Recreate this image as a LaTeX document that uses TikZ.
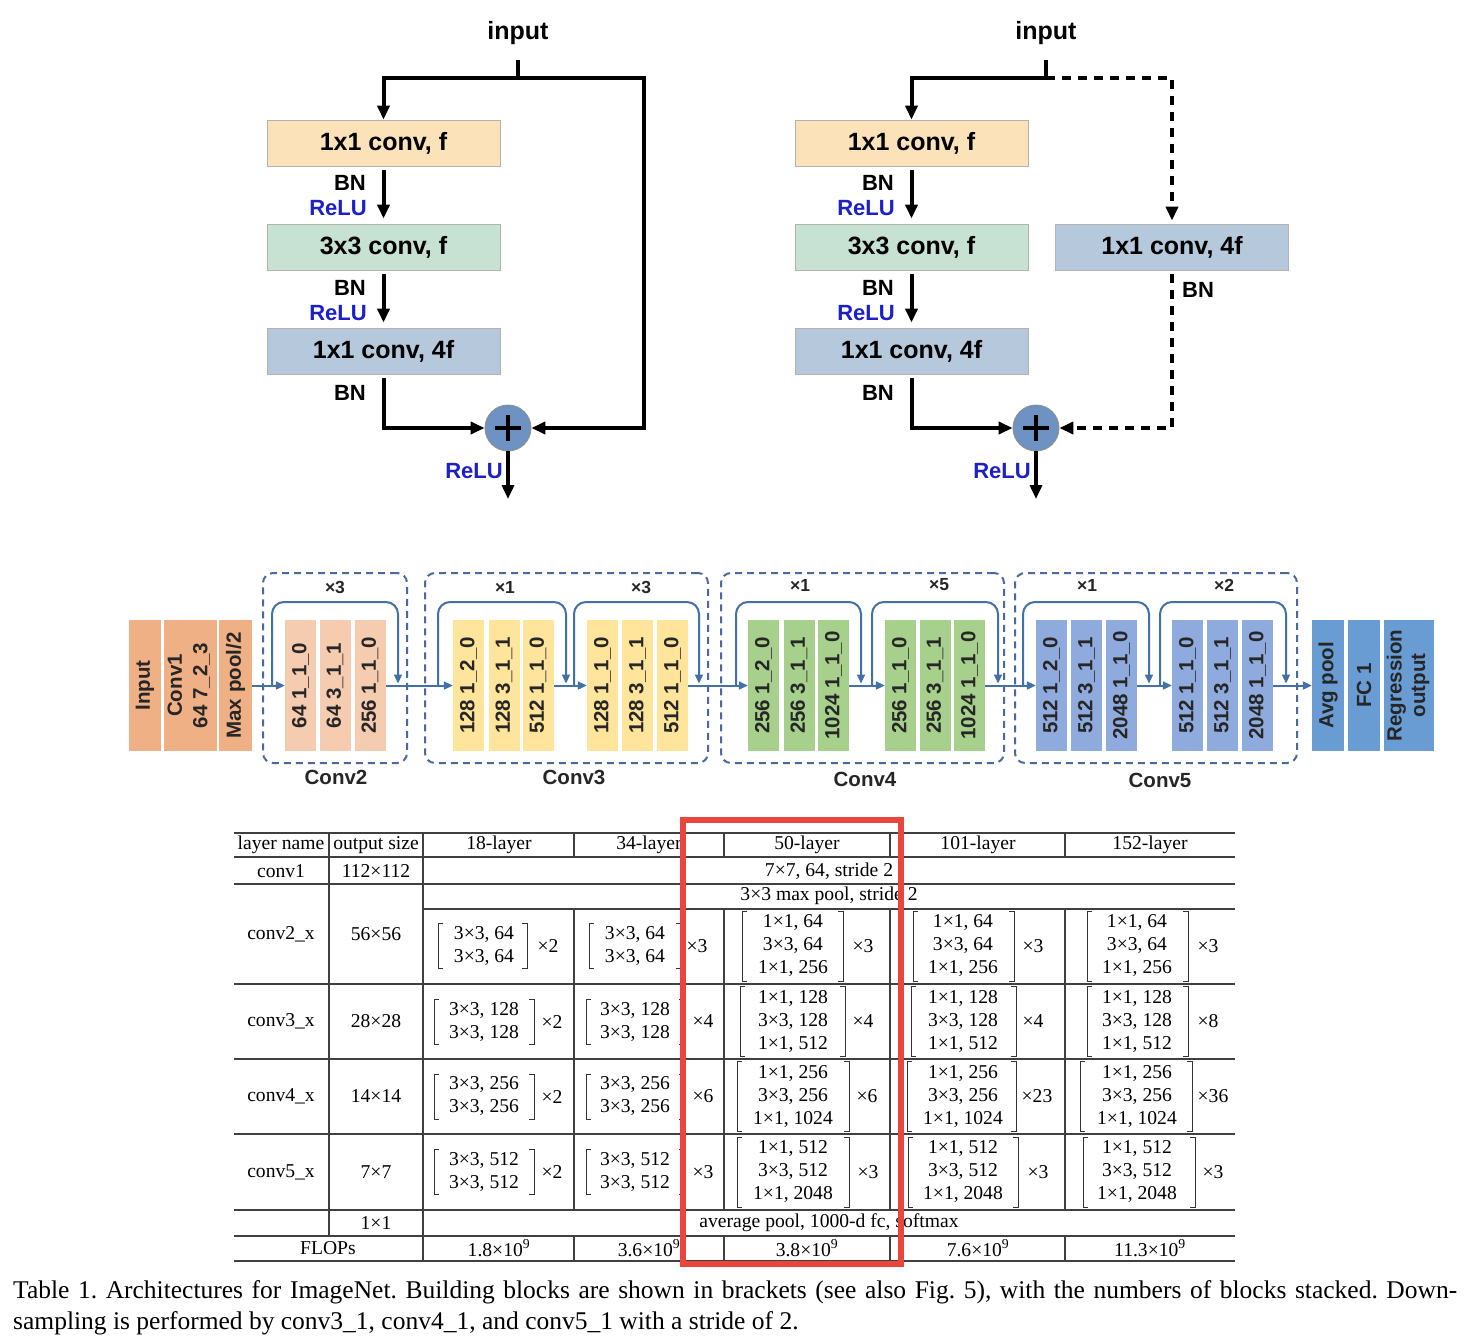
\documentclass[tikz,border=0pt]{standalone}
\usepackage{fontspec}
\setmainfont{Liberation Serif}
\setsansfont{Liberation Sans}
\usetikzlibrary{arrows.meta}
\frenchspacing
\definecolor{cA}{RGB}{251,226,184}
\definecolor{cB}{RGB}{199,225,210}
\definecolor{cC}{RGB}{182,200,219}
\definecolor{cP}{RGB}{110,146,194}
\definecolor{reluc}{RGB}{27,32,200}
\definecolor{mOr}{RGB}{239,176,133}
\definecolor{mPe}{RGB}{245,204,175}
\definecolor{mYe}{RGB}{254,229,155}
\definecolor{mGr}{RGB}{168,208,141}
\definecolor{mLa}{RGB}{143,170,220}
\definecolor{mBl}{RGB}{104,156,211}
\definecolor{mL}{RGB}{68,112,168}
\definecolor{mD}{RGB}{74,106,158}
\definecolor{redc}{RGB}{232,69,60}
\newcommand\dfs[1]{\sffamily\bfseries\fontsize{#1}{#1}\selectfont}
\newcommand\tfs{\rmfamily\fontsize{19.6}{23}\selectfont}
\newcommand\blk[5]{\node[mblk, fill=#2, minimum width=#3] (#1) at (#4,685.5) {\rotatebox{90}{#5}};}
\newcommand\skp[2]{\draw[mline,mtip,rounded corners=12pt,shorten >=2pt] (#1,685.5) -- (#1,602) -- (#2,602) -- (#2,685.5);}
\newcommand\brk[9]{%
  \node[tc] (#1) at (#2,#3) {#7};
  \draw[brk] (#4+5,#3-#6) -- (#4,#3-#6) -- (#4,#3+#6) -- (#4+5,#3+#6);
  \draw[brk] (#5-5,#3-#6) -- (#5,#3-#6) -- (#5,#3+#6) -- (#5-5,#3+#6);
  \node[tc] (#1m) at (#9,#3) {#8};}
\begin{document}
\begin{tikzpicture}[x=1pt,y=-1pt,
  lab/.style={inner sep=0pt, font=\dfs{22}},
  relu/.style={lab, text=reluc},
  tbox/.style={draw=black!30, line width=0.8pt, minimum width=233pt, minimum height=46pt, inner sep=0pt, font=\dfs{25}},
  thk/.style={line width=4pt, draw=black},
  tip/.style={-{Triangle[length=14pt,width=12pt]}},
  dsh/.style={thk, dash pattern=on 9pt off 7pt},
  plus/.style={circle, draw=black!45, line width=0.8pt, fill=cP, minimum size=46pt, inner sep=0pt},
  mblk/.style={minimum height=131pt, inner sep=0pt, font=\dfs{20.5}, text=black!85},
  mline/.style={line width=2pt, draw=mL},
  mtip/.style={-{Triangle[length=9pt,width=8pt]}},
  dbox/.style={draw=mD, line width=2pt, dash pattern=on 7pt off 5pt, rounded corners=10pt, minimum height=190pt, inner sep=0pt},
  glab/.style={inner sep=0pt, font=\dfs{20.5}, text=black!85},
  xlab/.style={inner sep=0pt, font=\dfs{17.5}, text=black!85},
  tc/.style={inner sep=0pt, font=\tfs, align=center},
  tl/.style={line width=1.1pt, draw=black!75},
  brk/.style={line width=1pt, draw=black!80},
  capt/.style={inner sep=0pt, font=\rmfamily\fontsize{25.5}{30}\selectfont}
]
\useasboundingbox (0,0) rectangle (1470,1342);
\fill[white] (0,0) rectangle (1470,1342);

% ---------------- top-left block
\node[lab, font=\dfs{25}] (ain) at (518,33) {input};
\coordinate (aj) at (518,78);
\coordinate (ar) at (644,78);
\coordinate (arb) at (644,428);
\node[tbox, fill=cA] (a1) at (383.5,143) {1x1 conv, f};
\node[tbox, fill=cB] (a2) at (383.5,247) {3x3 conv, f};
\node[tbox, fill=cC] (a3) at (383.5,351) {1x1 conv, 4f};
\node[plus] (ap) at (508,428) {};
\draw[line width=3.5pt] ([xshift=-13pt]ap.center) -- ([xshift=13pt]ap.center) ([yshift=-13pt]ap.center) -- ([yshift=13pt]ap.center);
\coordinate (aout) at (508,499);
\draw[thk] ([yshift=-15pt]ain.south) -- (aj);
\draw[thk,tip] (aj) -| (a1.north);
\draw[thk,tip] (aj) -- (ar) -- (arb) -- (ap.east);
\draw[thk,tip] ([yshift=-4pt]a1.south) -- ([yshift=5pt]a2.north);
\draw[thk,tip] ([yshift=-4pt]a2.south) -- ([yshift=5pt]a3.north);
\draw[thk,tip] ([yshift=-4pt]a3.south) |- (ap.west);
\draw[thk,tip] (ap.south) -- (aout);
\node[lab, anchor=east] (abn1) at (366,183) {BN};
\node[relu, anchor=east] (ar1) at (367,208) {ReLU};
\node[lab, anchor=east] (abn2) at (366,288) {BN};
\node[relu, anchor=east] (ar2) at (367,313) {ReLU};
\node[lab, anchor=east] (abn3) at (366,393) {BN};
\node[relu, anchor=east] (ar3) at (503,471) {ReLU};

% ---------------- top-right block
\node[lab, font=\dfs{25}] (bin) at (1046,33) {input};
\coordinate (bj) at (1046,78);
\node[tbox, fill=cA] (b1) at (911.5,143) {1x1 conv, f};
\node[tbox, fill=cB] (b2) at (911.5,247) {3x3 conv, f};
\node[tbox, fill=cC] (b3) at (911.5,351) {1x1 conv, 4f};
\node[tbox, fill=cC] (bx) at (1172,247) {1x1 conv, 4f};
\node[plus] (bp) at (1036,428) {};
\draw[line width=3.5pt] ([xshift=-13pt]bp.center) -- ([xshift=13pt]bp.center) ([yshift=-13pt]bp.center) -- ([yshift=13pt]bp.center);
\coordinate (bout) at (1036,499);
\draw[thk] ([yshift=-15pt]bin.south) -- (bj);
\draw[thk,tip] (bj) -| (b1.north);
\draw[dsh,tip] (bj) -| ([yshift=3pt]bx.north);
\draw[dsh,tip] ([yshift=-4pt]bx.south) |- (bp.east);
\draw[thk,tip] ([yshift=-4pt]b1.south) -- ([yshift=5pt]b2.north);
\draw[thk,tip] ([yshift=-4pt]b2.south) -- ([yshift=5pt]b3.north);
\draw[thk,tip] ([yshift=-4pt]b3.south) |- (bp.west);
\draw[thk,tip] (bp.south) -- (bout);
\node[lab, anchor=east] (bbn1) at (894,183) {BN};
\node[relu, anchor=east] (br1) at (895,208) {ReLU};
\node[lab, anchor=east] (bbn2) at (894,288) {BN};
\node[relu, anchor=east] (br2) at (895,313) {ReLU};
\node[lab, anchor=east] (bbn3) at (894,393) {BN};
\node[lab, anchor=west] (bbn4) at (1182,290) {BN};
\node[relu, anchor=east] (br3) at (1031,471) {ReLU};

% ---------------- middle row
\node[dbox, minimum width=144pt] (g2) at (335,668) {};
\node[dbox, minimum width=283pt] (g3) at (566.5,668) {};
\node[dbox, minimum width=283pt] (g4) at (862.5,668) {};
\node[dbox, minimum width=282pt] (g5) at (1156,668) {};

\blk{mi}{mOr}{32}{145}{Input}
\node[mblk, fill=mOr, minimum width=53pt] (mc1) at (190.5,685.5) {\rotatebox{90}{\begin{tabular}{@{}c@{}}Conv1\\[5pt]64 7\_2\_3\end{tabular}}};
\blk{mp}{mOr}{33}{235.5}{Max pool/2}

\blk{c2a}{mPe}{31}{300.5}{64 1\_1\_0}
\blk{c2b}{mPe}{31}{335}{64 3\_1\_1}
\blk{c2c}{mPe}{31}{370}{256 1\_1\_0}

\blk{c3a}{mYe}{31}{468.5}{128 1\_2\_0}
\blk{c3b}{mYe}{31}{504}{128 3\_1\_1}
\blk{c3c}{mYe}{31}{538}{512 1\_1\_0}
\blk{c3d}{mYe}{31}{602.5}{128 1\_1\_0}
\blk{c3e}{mYe}{31}{637.5}{128 3\_1\_1}
\blk{c3f}{mYe}{31}{672.5}{512 1\_1\_0}

\blk{c4a}{mGr}{31}{763.5}{256 1\_2\_0}
\blk{c4b}{mGr}{31}{799}{256 3\_1\_1}
\blk{c4c}{mGr}{31}{833.5}{1024 1\_1\_0}
\blk{c4d}{mGr}{31}{900.5}{256 1\_1\_0}
\blk{c4e}{mGr}{31}{935}{256 3\_1\_1}
\blk{c4f}{mGr}{31}{969.5}{1024 1\_1\_0}

\blk{c5a}{mLa}{31}{1051.5}{512 1\_2\_0}
\blk{c5b}{mLa}{31}{1086.5}{512 3\_1\_1}
\blk{c5c}{mLa}{31}{1121.5}{2048 1\_1\_0}
\blk{c5d}{mLa}{31}{1187.5}{512 1\_1\_0}
\blk{c5e}{mLa}{31}{1222.5}{512 3\_1\_1}
\blk{c5f}{mLa}{31}{1257.5}{2048 1\_1\_0}

\blk{fa}{mBl}{32}{1328}{Avg pool}
\blk{fb}{mBl}{32}{1364}{FC 1}
\node[mblk, fill=mBl, minimum width=50pt] (fc) at (1409,685.5) {\rotatebox{90}{\begin{tabular}{@{}c@{}}Regression\\[3pt]output\end{tabular}}};

\skp{272}{398}
\skp{438}{566}
\skp{574}{699}
\skp{736}{861}
\skp{872}{998}
\skp{1023}{1149}
\skp{1160}{1286}

\draw[mline,mtip] (mp.east) -- (c2a.west);
\draw[mline,mtip] (c2c.east) -- (c3a.west);
\draw[mline,mtip] (c3c.east) -- (c3d.west);
\draw[mline,mtip] (c3f.east) -- (c4a.west);
\draw[mline,mtip] (c4c.east) -- (c4d.west);
\draw[mline,mtip] (c4f.east) -- (c5a.west);
\draw[mline,mtip] (c5c.east) -- (c5d.west);
\draw[mline,mtip] (c5f.east) -- (fa.west);

\node[xlab] (x2) at (335,587) {×3};
\node[xlab] (x3a) at (505,587) {×1};
\node[xlab] (x3b) at (641,587) {×3};
\node[xlab] (x4a) at (800,585) {×1};
\node[xlab] (x4b) at (939,585) {×5};
\node[xlab] (x5a) at (1087,585) {×1};
\node[xlab] (x5b) at (1224,585) {×2};
\node[glab] (l2) at (336,777) {Conv2};
\node[glab] (l3) at (574,777) {Conv3};
\node[glab] (l4) at (865,779) {Conv4};
\node[glab] (l5) at (1160,780) {Conv5};

% ---------------- table
\foreach \y in {833,857,884,984,1059,1134,1210,1236,1261} {\draw[tl] (234,\y) -- (1235,\y);}
\draw[tl] (423,909) -- (1235,909);
\draw[tl] (329,833) -- (329,1236);
\draw[tl] (423,833) -- (423,1261);
\foreach \x in {574,724,890,1065} {\draw[tl] (\x,833) -- (\x,857); \draw[tl] (\x,909) -- (\x,1210); \draw[tl] (\x,1236) -- (\x,1261);}

\node[tc] (h1) at (281,845) {layer name};
\node[tc] (h2) at (376,845) {output size};
\node[tc] (h3) at (499,845) {18-layer};
\node[tc] (h4) at (649,845) {34-layer};
\node[tc] (h5) at (807,845) {50-layer};
\node[tc] (h6) at (978,845) {101-layer};
\node[tc] (h7) at (1150,845) {152-layer};

\node[tc] (r1a) at (281,871) {conv1};
\node[tc] (r1b) at (376,871) {112×112};
\node[tc] (r1c) at (829,871) {7×7, 64, stride 2};
\node[tc] (r1d) at (829,896) {3×3 max pool, stride 2};
\node[tc] (r2a) at (281,934) {conv2\_x};
\node[tc] (r2b) at (376,934) {56×56};
\node[tc] (r3a) at (281,1021) {conv3\_x};
\node[tc] (r3b) at (376,1021) {28×28};
\node[tc] (r4a) at (281,1096) {conv4\_x};
\node[tc] (r4b) at (376,1096) {14×14};
\node[tc] (r5a) at (281,1172) {conv5\_x};
\node[tc] (r5b) at (376,1172) {7×7};
\node[tc] (r6b) at (376,1223) {1×1};
\node[tc] (r6c) at (829,1223) {average pool, 1000-d fc, softmax};
\node[tc] (f1) at (328,1248) {FLOPs};
\node[tc] (f2) at (499,1248) {1.8×10\textsuperscript{9}};
\node[tc] (f3) at (649,1248) {3.6×10\textsuperscript{9}};
\node[tc] (f4) at (807,1248) {3.8×10\textsuperscript{9}};
\node[tc] (f5) at (978,1248) {7.6×10\textsuperscript{9}};
\node[tc] (f6) at (1150,1248) {11.3×10\textsuperscript{9}};

% 18-layer
\brk{k21}{484}{946}{438}{527}{22.5}{3×3, 64\\3×3, 64}{×2}{548}
\brk{k31}{484}{1021.5}{434}{534}{22.5}{3×3, 128\\3×3, 128}{×2}{552}
\brk{k41}{484}{1096.5}{434}{534}{22.5}{3×3, 256\\3×3, 256}{×2}{552}
\brk{k51}{484}{1172}{434}{534}{22.5}{3×3, 512\\3×3, 512}{×2}{552}
% 34-layer
\brk{k22}{635}{946}{589}{681}{22.5}{3×3, 64\\3×3, 64}{×3}{697}
\brk{k32}{635}{1021.5}{586}{684}{22.5}{3×3, 128\\3×3, 128}{×4}{703}
\brk{k42}{635}{1096.5}{586}{684}{22.5}{3×3, 256\\3×3, 256}{×6}{703}
\brk{k52}{635}{1172}{586}{684}{22.5}{3×3, 512\\3×3, 512}{×3}{703}
% 50-layer
\brk{k23}{793}{946}{742}{843}{35}{1×1, 64\\3×3, 64\\1×1, 256}{×3}{863}
\brk{k33}{793}{1021.5}{740}{845}{35}{1×1, 128\\3×3, 128\\1×1, 512}{×4}{863}
\brk{k43}{793}{1096.5}{737}{849}{35}{1×1, 256\\3×3, 256\\1×1, 1024}{×6}{867}
\brk{k53}{793}{1172}{737}{849}{35}{1×1, 512\\3×3, 512\\1×1, 2048}{×3}{868}
% 101-layer
\brk{k24}{963}{946}{913}{1014}{35}{1×1, 64\\3×3, 64\\1×1, 256}{×3}{1033}
\brk{k34}{963}{1021.5}{911}{1016}{35}{1×1, 128\\3×3, 128\\1×1, 512}{×4}{1033}
\brk{k44}{963}{1096.5}{907}{1016}{35}{1×1, 256\\3×3, 256\\1×1, 1024}{×23}{1037}
\brk{k54}{963}{1172}{908}{1018}{35}{1×1, 512\\3×3, 512\\1×1, 2048}{×3}{1038}
% 152-layer
\brk{k25}{1137}{946}{1087}{1188}{35}{1×1, 64\\3×3, 64\\1×1, 256}{×3}{1208}
\brk{k35}{1137}{1021.5}{1087}{1188}{35}{1×1, 128\\3×3, 128\\1×1, 512}{×8}{1208}
\brk{k45}{1137}{1096.5}{1080}{1192}{35}{1×1, 256\\3×3, 256\\1×1, 1024}{×36}{1213}
\brk{k55}{1137}{1172}{1083}{1195}{35}{1×1, 512\\3×3, 512\\1×1, 2048}{×3}{1213}

\draw[draw=redc, line width=6pt] (683,820) rectangle (901,1264);

% ---------------- caption
\node[capt, anchor=base west] (cap1) at (13,1298) {\makebox[1444pt][s]{Table 1. Architectures for ImageNet. Building blocks are shown in brackets (see also Fig.~5), with the numbers of blocks stacked. Down-}};
\node[capt, anchor=base west] (cap2) at (13,1329) {sampling is performed by conv3\_1, conv4\_1, and conv5\_1 with a stride of 2.};
\end{tikzpicture}
\end{document}
